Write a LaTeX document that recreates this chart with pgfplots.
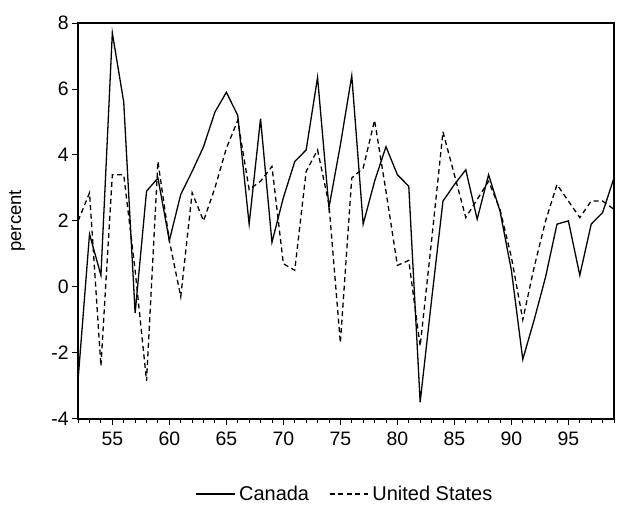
\documentclass[border=0pt]{standalone}
\usepackage{pgfplots}
\pgfplotsset{compat=1.18}
\usepackage{fontspec}
\setmainfont{Liberation Sans}
\begin{document}
\begin{tikzpicture}
\begin{axis}[
  scale only axis, width=535bp, height=395bp,
  xmin=52, xmax=99, ymin=-4, ymax=8,
  xtick={55,60,...,95}, minor xtick={52,...,99},
  ytick={-4,-2,...,8},
  axis line style={line width=1.7pt},
  tick style={black, line width=0.9pt},
  tick align=outside, xtick pos=bottom, ytick pos=left,
  major tick length=6bp, minor tick length=4bp,
  ticklabel style={font=\fontsize{19.5}{22}\selectfont},
  /pgf/number format/assume math mode=true,
  xticklabel style={yshift=-4bp},
  ylabel={percent}, ylabel style={font=\fontsize{18.5}{22}\selectfont,
    at={(axis description cs:-0.114,0.5)}, anchor=center},
  legend style={at={(axis description cs:0.5,-0.19)}, anchor=center, draw=none,
    font=\fontsize{20}{24}\selectfont, legend columns=2,
    nodes={inner xsep=4bp},
    /tikz/every even column/.append style={column sep=16bp}},
  legend image code/.code={\draw[#1] (0bp,0bp) -- (38bp,0bp);},
]
\addplot[black, line width=1.3pt] coordinates {
(52,-2.8) (53,1.6) (54,0.35) (55,7.7) (56,5.6) (57,-0.8) (58,2.9) (59,3.3)
(60,1.4) (61,2.8) (62,3.5) (63,4.25) (64,5.3) (65,5.9) (66,5.2) (67,1.9)
(68,5.1) (69,1.35) (70,2.7) (71,3.8) (72,4.15) (73,6.35) (74,2.4) (75,4.3)
(76,6.4) (77,1.9) (78,3.2) (79,4.25) (80,3.4) (81,3.05) (82,-3.5) (83,-0.4)
(84,2.6) (85,3.1) (86,3.55) (87,2.05) (88,3.4) (89,2.3) (90,0.5) (91,-2.2)
(92,-1.0) (93,0.3) (94,1.9) (95,2.0) (96,0.35) (97,1.9) (98,2.25) (99,3.3)
};
\addlegendentry{Canada}
\addplot[black, line width=1.3pt, dash pattern=on 5bp off 3.5bp] coordinates {
(52,2.0) (53,2.85) (54,-2.4) (55,3.4) (56,3.4) (57,0.5) (58,-2.85) (59,3.8)
(60,1.4) (61,-0.3) (62,2.85) (63,2.0) (64,3.0) (65,4.2) (66,5.05) (67,2.95)
(68,3.2) (69,3.65) (70,0.7) (71,0.5) (72,3.5) (73,4.15) (74,2.5) (75,-1.7)
(76,3.3) (77,3.6) (78,5.05) (79,2.9) (80,0.65) (81,0.8) (82,-1.8) (83,1.4)
(84,4.7) (85,3.4) (86,2.1) (87,2.65) (88,3.2) (89,2.35) (90,0.9) (91,-1.0)
(92,0.6) (93,2.0) (94,3.1) (95,2.6) (96,2.1) (97,2.6) (98,2.6) (99,2.35)
};
\addlegendentry{United States}
\end{axis}
\pgfresetboundingbox
\path ([shift={(-78bp,-88bp)}]current axis.south west) rectangle ([shift={(3bp,23bp)}]current axis.north east);
\end{tikzpicture}
\end{document}
